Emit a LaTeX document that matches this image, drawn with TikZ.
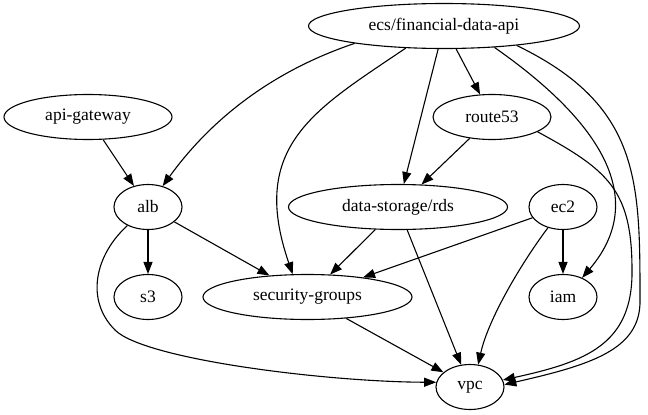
\documentclass[tikz,border=0pt]{standalone}
\usepackage{fontspec}
\setmainfont{Liberation Serif}
\usetikzlibrary{shapes.geometric,arrows.meta}
\begin{document}
\begin{tikzpicture}[x=1pt, y=-1pt, line width=1.1pt, >={Triangle[length=12pt,width=9pt]}]
  \tikzstyle{svc}=[ellipse, draw, inner sep=0pt, minimum height=45pt, minimum width=68pt, font=\fontsize{17.5}{20}\selectfont]
  \tikzstyle{dep}=[->]
  \useasboundingbox (0,0) rectangle (648,415);
  % services, one row per rank
  \node[svc, minimum width=271pt] (ecs) at (444,26) {ecs/financial-data-api};
  \node[svc, minimum width=168pt] (api) at (88,117) {api-gateway};
  \node[svc, minimum width=118pt] (route53) at (492,117) {route53};
  \node[svc] (alb) at (148,207) {alb};
  \node[svc, minimum width=219pt] (rds) at (398,207) {data-storage/rds};
  \node[svc] (ec2) at (563,207) {ec2};
  \node[svc] (s3) at (148,297) {s3};
  \node[svc, minimum width=209pt] (sg) at (307.5,297) {security-groups};
  \node[svc] (iam) at (563,297) {iam};
  \node[svc] (vpc) at (470,387) {vpc};
  % dependencies
  \draw[dep] (api) -- (alb);
  \draw[dep] (ecs.191) .. controls (261,75) and (204,129) .. (alb.55);
  \draw[dep] (ecs.210) .. controls (316,109) and (248,145) .. (sg.123);
  \draw[dep] (ecs) -- (rds);
  \draw[dep] (ecs) -- (route53);
  \draw[dep] (ecs.337) .. controls (584,110) and (656,191) .. (iam.45);
  \draw[dep] (ecs.345) .. controls (640,105) and (640,180) .. (640,300)
             .. controls (641,350) and (590,365) .. (vpc.4);
  \draw[dep] (route53) -- (rds);
  \draw[dep] (route53.342) .. controls (608,170) and (632,190) .. (632,270)
             .. controls (633,345) and (585,362) .. (vpc.12);
  \draw[dep] (alb) -- (s3);
  \draw[dep] (alb) -- (sg);
  \draw[dep] (alb.222) .. controls (95,255) and (85,300) .. (115,330)
             .. controls (145,360) and (330,382) .. (vpc.172);
  \draw[dep] (rds) -- (sg);
  \draw[dep] (rds) -- (vpc);
  \draw[dep] (ec2) -- (sg);
  \draw[dep] (ec2) -- (iam);
  \draw[dep] (ec2.234) .. controls (520,265) and (488,320) .. (vpc.70);
  \draw[dep] (sg) -- (vpc);
\end{tikzpicture}
\end{document}
